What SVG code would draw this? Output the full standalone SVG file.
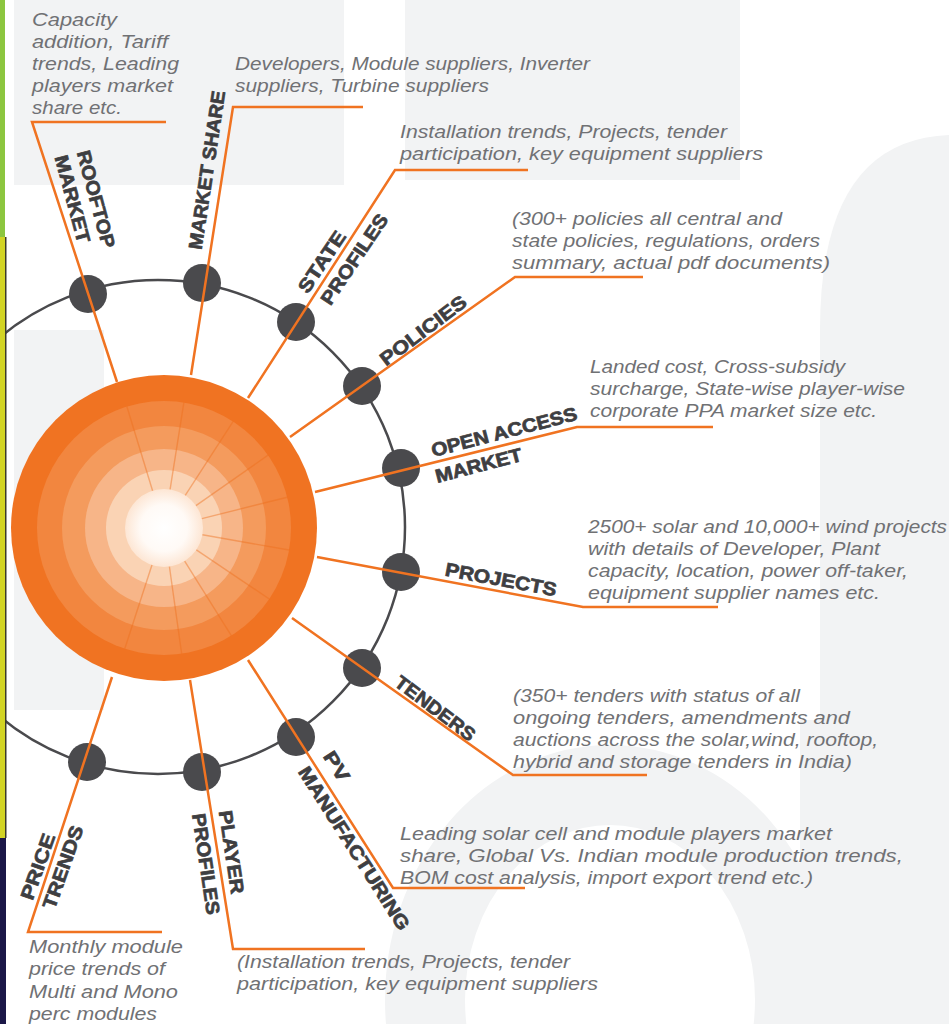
<svg xmlns="http://www.w3.org/2000/svg" width="949" height="1024" viewBox="0 0 949 1024">
<defs>
<style>
.d{font-family:"Liberation Sans",Arial,sans-serif;font-style:italic;font-size:18px;fill:#707174}
.l{font-family:"Liberation Sans",Arial,sans-serif;font-weight:bold;font-size:19px;fill:#3e3e41;stroke:#3e3e41;stroke-width:0.7}
.wm{fill:#f2f3f4}
.node{fill:#4a4a4d}
.conn{fill:none;stroke:#f07321;stroke-width:2.5;stroke-linejoin:miter}
.div{stroke:#ee6f1c;stroke-opacity:0.45;stroke-width:1.4}
</style>
<radialGradient id="core" cx="0.5" cy="0.5" r="0.5">
<stop offset="0" stop-color="#ffffff"/>
<stop offset="0.6" stop-color="#fffaf6"/>
<stop offset="1" stop-color="#fde6d4"/>
</radialGradient>
</defs>
<rect x="0" y="0" width="949" height="1024" fill="#ffffff"/>
<g id="watermark">
<rect class="wm" x="14" y="0" width="330" height="185"/>
<rect class="wm" x="405" y="0" width="335" height="180"/>
<path class="wm" d="M820 720 L820 330 Q820 140 949 135 L949 720 Z"/>
<rect class="wm" x="14" y="330" width="90" height="380"/>
<ellipse cx="610" cy="1000" rx="185" ry="215" fill="none" stroke="#f2f3f4" stroke-width="80"/>
<rect class="wm" x="800" y="720" width="149" height="304"/>
</g>
<g id="ring">
<circle cx="158" cy="527" r="247" fill="none" stroke="#4a4a4d" stroke-width="2.5"/>
</g>
<g id="sun">
<circle cx="164" cy="528" r="153" fill="#f07322"/>
<circle cx="164" cy="528" r="127" fill="#f2863f"/>
<circle cx="164" cy="528" r="102" fill="#f49b5d"/>
<circle cx="164" cy="528" r="79" fill="#f7b588"/>
<circle cx="164" cy="528" r="58" fill="#fad3b4"/>
<circle cx="164" cy="528" r="39" fill="url(#core)"/>
<g transform="translate(164 528)">
<line class="div" x1="39" y1="0" x2="127" y2="0" transform="rotate(-107)"/>
<line class="div" x1="39" y1="0" x2="127" y2="0" transform="rotate(-81)"/>
<line class="div" x1="39" y1="0" x2="127" y2="0" transform="rotate(-57)"/>
<line class="div" x1="39" y1="0" x2="127" y2="0" transform="rotate(-35)"/>
<line class="div" x1="39" y1="0" x2="127" y2="0" transform="rotate(-14)"/>
<line class="div" x1="39" y1="0" x2="127" y2="0" transform="rotate(10)"/>
<line class="div" x1="39" y1="0" x2="127" y2="0" transform="rotate(34)"/>
<line class="div" x1="39" y1="0" x2="127" y2="0" transform="rotate(58)"/>
<line class="div" x1="39" y1="0" x2="127" y2="0" transform="rotate(82)"/>
<line class="div" x1="39" y1="0" x2="127" y2="0" transform="rotate(108)"/>
</g>
</g>
<g id="rooftop-market">
<circle class="node" cx="88" cy="294" r="19"/>
<text class="l" transform="translate(96.5 199) rotate(75)" x="0" y="7" text-anchor="middle" textLength="100" lengthAdjust="spacingAndGlyphs">ROOFTOP</text>
<text class="l" transform="translate(73 199) rotate(75)" x="0" y="7" text-anchor="middle" textLength="90" lengthAdjust="spacingAndGlyphs">MARKET</text>
<text class="d" x="32" y="26" textLength="85" lengthAdjust="spacingAndGlyphs">Capacity</text>
<text class="d" x="32" y="48" textLength="136" lengthAdjust="spacingAndGlyphs">addition, Tariff</text>
<text class="d" x="32" y="70" textLength="147" lengthAdjust="spacingAndGlyphs">trends, Leading</text>
<text class="d" x="32" y="92" textLength="141" lengthAdjust="spacingAndGlyphs">players market</text>
<text class="d" x="32" y="114" textLength="90" lengthAdjust="spacingAndGlyphs">share etc.</text>
</g>
<g id="market-share">
<circle class="node" cx="202" cy="283" r="19"/>
<text class="l" transform="translate(206.5 170) rotate(-81.5)" x="0" y="7" text-anchor="middle" textLength="160" lengthAdjust="spacingAndGlyphs">MARKET SHARE</text>
<text class="d" x="235" y="70" textLength="355" lengthAdjust="spacingAndGlyphs">Developers, Module suppliers, Inverter</text>
<text class="d" x="235" y="92" textLength="254" lengthAdjust="spacingAndGlyphs">suppliers, Turbine suppliers</text>
</g>
<g id="state-profiles">
<circle class="node" cx="296" cy="322" r="19"/>
<text class="l" transform="translate(321.5 261.5) rotate(-56)" x="0" y="7" text-anchor="middle" textLength="70" lengthAdjust="spacingAndGlyphs">STATE</text>
<text class="l" transform="translate(354 259) rotate(-56)" x="0" y="7" text-anchor="middle" textLength="105" lengthAdjust="spacingAndGlyphs">PROFILES</text>
<text class="d" x="400" y="138" textLength="327" lengthAdjust="spacingAndGlyphs">Installation trends, Projects, tender</text>
<text class="d" x="400" y="160" textLength="363" lengthAdjust="spacingAndGlyphs">participation, key equipment suppliers</text>
</g>
<g id="policies">
<circle class="node" cx="362" cy="386" r="19"/>
<text class="l" transform="translate(423 330) rotate(-37)" x="0" y="7" text-anchor="middle" textLength="103" lengthAdjust="spacingAndGlyphs">POLICIES</text>
<text class="d" x="512" y="225" textLength="270" lengthAdjust="spacingAndGlyphs">(300+ policies all central and</text>
<text class="d" x="512" y="247" textLength="308" lengthAdjust="spacingAndGlyphs">state policies, regulations, orders</text>
<text class="d" x="512" y="269" textLength="318" lengthAdjust="spacingAndGlyphs">summary, actual pdf documents)</text>
</g>
<g id="open-access-market">
<circle class="node" cx="401" cy="468" r="19"/>
<text class="l" transform="translate(504 431.5) rotate(-14.5)" x="0" y="7" text-anchor="middle" textLength="150" lengthAdjust="spacingAndGlyphs">OPEN ACCESS</text>
<text class="l" transform="translate(478.5 465) rotate(-14.5)" x="0" y="7" text-anchor="middle" textLength="89" lengthAdjust="spacingAndGlyphs">MARKET</text>
<text class="d" x="590" y="373" textLength="255" lengthAdjust="spacingAndGlyphs">Landed cost, Cross-subsidy</text>
<text class="d" x="590" y="395" textLength="315" lengthAdjust="spacingAndGlyphs">surcharge, State-wise player-wise</text>
<text class="d" x="590" y="417" textLength="287" lengthAdjust="spacingAndGlyphs">corporate PPA market size etc.</text>
</g>
<g id="projects">
<circle class="node" cx="401" cy="572" r="19"/>
<text class="l" transform="translate(501 579) rotate(10.5)" x="0" y="7" text-anchor="middle" textLength="113" lengthAdjust="spacingAndGlyphs">PROJECTS</text>
<text class="d" x="588" y="533" textLength="359" lengthAdjust="spacingAndGlyphs">2500+ solar and 10,000+ wind projects</text>
<text class="d" x="588" y="555" textLength="292" lengthAdjust="spacingAndGlyphs">with details of Developer, Plant</text>
<text class="d" x="588" y="577" textLength="320" lengthAdjust="spacingAndGlyphs">capacity, location, power off-taker,</text>
<text class="d" x="588" y="599" textLength="292" lengthAdjust="spacingAndGlyphs">equipment supplier names etc.</text>
</g>
<g id="tenders">
<circle class="node" cx="362" cy="668" r="19"/>
<text class="l" transform="translate(435.5 708) rotate(37)" x="0" y="7" text-anchor="middle" textLength="95" lengthAdjust="spacingAndGlyphs">TENDERS</text>
<text class="d" x="513" y="702" textLength="287" lengthAdjust="spacingAndGlyphs">(350+ tenders with status of all</text>
<text class="d" x="513" y="724" textLength="337" lengthAdjust="spacingAndGlyphs">ongoing tenders, amendments and</text>
<text class="d" x="513" y="746" textLength="365" lengthAdjust="spacingAndGlyphs">auctions across the solar,wind, rooftop,</text>
<text class="d" x="513" y="768" textLength="339" lengthAdjust="spacingAndGlyphs">hybrid and storage tenders in India)</text>
</g>
<g id="pv-manufacturing">
<circle class="node" cx="296" cy="737" r="19"/>
<text class="l" transform="translate(337 766) rotate(57.5)" x="0" y="7" text-anchor="middle" textLength="32" lengthAdjust="spacingAndGlyphs">PV</text>
<text class="l" transform="translate(354.5 848) rotate(57.5)" x="0" y="7" text-anchor="middle" textLength="190" lengthAdjust="spacingAndGlyphs">MANUFACTURING</text>
<text class="d" x="400" y="840" textLength="432" lengthAdjust="spacingAndGlyphs">Leading solar cell and module players market</text>
<text class="d" x="400" y="862" textLength="503" lengthAdjust="spacingAndGlyphs">share, Global Vs. Indian module production trends,</text>
<text class="d" x="400" y="884" textLength="413" lengthAdjust="spacingAndGlyphs">BOM cost analysis, import export trend etc.)</text>
</g>
<g id="player-profiles">
<circle class="node" cx="202" cy="772" r="19"/>
<text class="l" transform="translate(232 852) rotate(81.5)" x="0" y="7" text-anchor="middle" textLength="84" lengthAdjust="spacingAndGlyphs">PLAYER</text>
<text class="l" transform="translate(206.5 864) rotate(81.5)" x="0" y="7" text-anchor="middle" textLength="102" lengthAdjust="spacingAndGlyphs">PROFILES</text>
<text class="d" x="237" y="968" textLength="333" lengthAdjust="spacingAndGlyphs">(Installation trends, Projects, tender</text>
<text class="d" x="237" y="990" textLength="361" lengthAdjust="spacingAndGlyphs">participation, key equipment suppliers</text>
</g>
<g id="price-trends">
<circle class="node" cx="87" cy="762" r="19"/>
<text class="l" transform="translate(37.5 866.5) rotate(-70.5)" x="0" y="7" text-anchor="middle" textLength="69" lengthAdjust="spacingAndGlyphs">PRICE</text>
<text class="l" transform="translate(62.5 867) rotate(-70.5)" x="0" y="7" text-anchor="middle" textLength="87" lengthAdjust="spacingAndGlyphs">TRENDS</text>
<text class="d" x="29" y="953" textLength="154" lengthAdjust="spacingAndGlyphs">Monthly module</text>
<text class="d" x="29" y="975" textLength="136" lengthAdjust="spacingAndGlyphs">price trends of</text>
<text class="d" x="29" y="998" textLength="149" lengthAdjust="spacingAndGlyphs">Multi and Mono</text>
<text class="d" x="29" y="1020" textLength="128" lengthAdjust="spacingAndGlyphs">perc modules</text>
</g>
<g id="connectors">
<polyline class="conn" points="117,382 32,122 166,122"/>
<polyline class="conn" points="191,375 233,107 363,107"/>
<polyline class="conn" points="248,398 395,170 528,170"/>
<polyline class="conn" points="290,437 515,277 643,277"/>
<polyline class="conn" points="315,492 577,427 713,427"/>
<polyline class="conn" points="317,557 583,607 718,607"/>
<polyline class="conn" points="292,618 513,775 647,775"/>
<polyline class="conn" points="248,660 393,888 525,888"/>
<polyline class="conn" points="190,680 233,949 365,949"/>
<polyline class="conn" points="112,677 28,932 162,932"/>
</g>
<g id="edge">
<rect x="0" y="0" width="5" height="237" fill="#8cc63f"/>
<rect x="0" y="237" width="5" height="601" fill="#d2d424"/>
<rect x="0" y="838" width="6" height="186" fill="#1b1747"/>
<rect x="5" y="237" width="1.5" height="601" fill="#3b3a2a"/>
</g>
</svg>
